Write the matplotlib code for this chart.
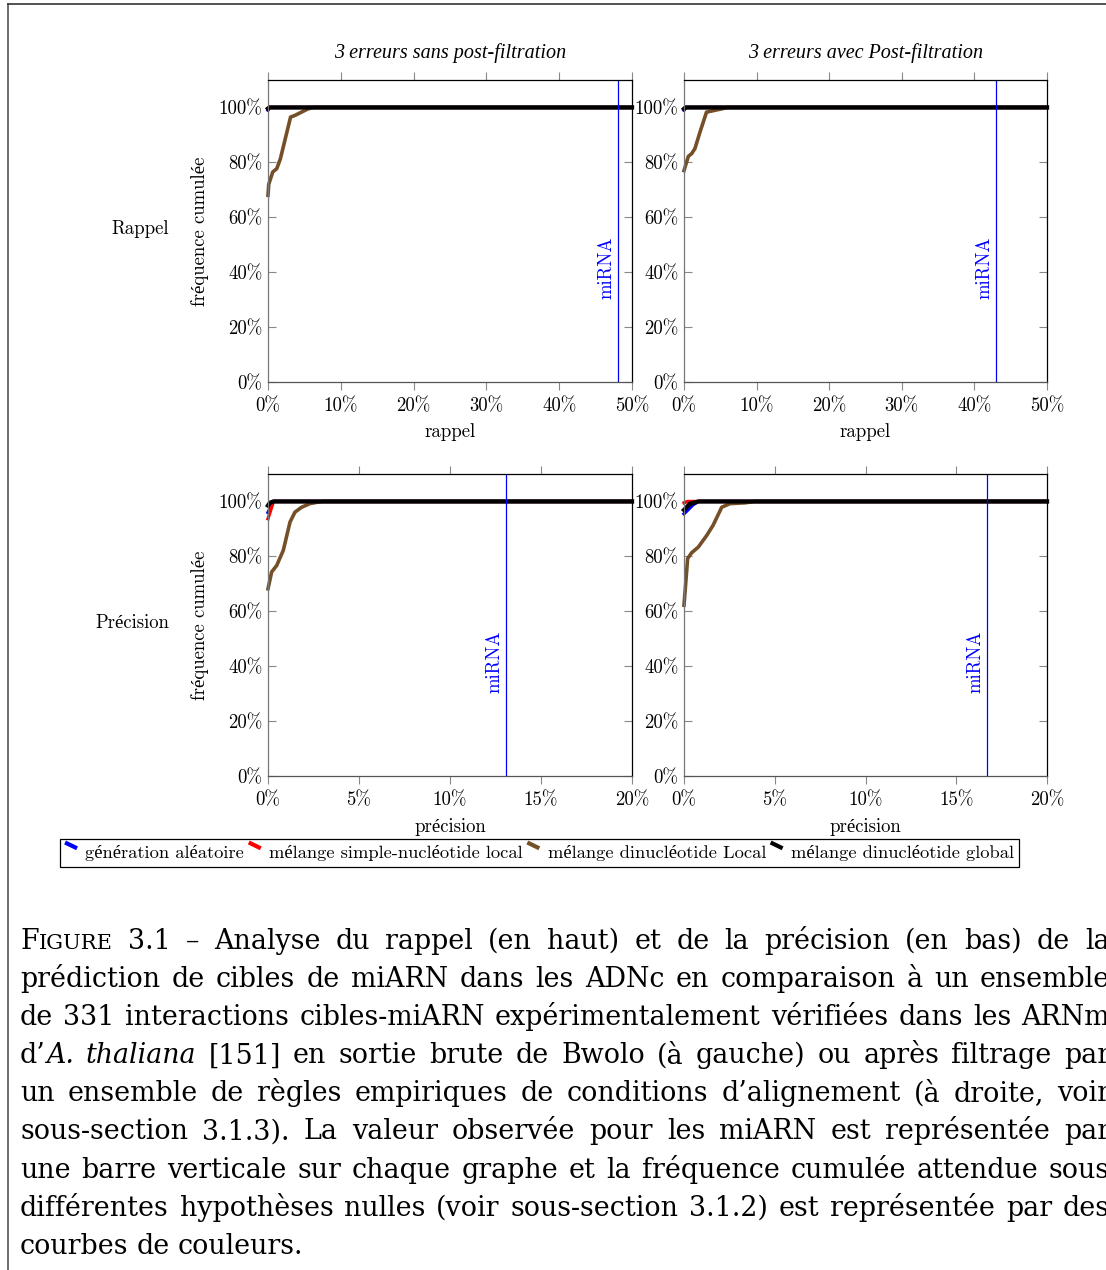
# -*- coding: utf-8 -*-
"""
Rappel / precision des predictions de cibles miARN (figure 3.1)
"""

import matplotlib
matplotlib.use('Agg')
import matplotlib.pyplot as plt
from matplotlib.lines import Line2D
from matplotlib.legend_handler import HandlerBase

W, H = 1106, 1270
FONT = ['cmr10', 'Liberation Serif']
CAPFONT = 'DejaVu Serif'
plt.rcParams['axes.formatter.use_mathtext'] = True

# ---------------- data (in %) ----------------
serie_names = ['génération aléatoire', 'mélange simple-nucléotide local',
               'mélange dinucléotide Local', 'mélange dinucléotide global']
serie_colors = ['#0000ff', '#ff0000', '#744f28', '#000000']

# Rappel, 3 erreurs sans post-filtration
rs_blue_x = [0, 0.2, 50]
rs_blue_y = [99.0, 100, 100]
rs_red_x = [0, 0.2, 50]
rs_red_y = [99.3, 100, 100]
rs_brown_x = [0, 0.1, 0.65, 1.2, 1.7, 3.1, 3.7, 4.6, 5.5, 6.3, 50]
rs_brown_y = [68, 72, 76.5, 77.7, 81.3, 96.5, 97.1, 98.3, 99.5, 100, 100]
rs_black_x = [0, 0.2, 50]
rs_black_y = [99.6, 100, 100]

# Rappel, 3 erreurs avec post-filtration
ra_blue_x = [0, 0.2, 50]
ra_blue_y = [99.0, 100, 100]
ra_red_x = [0, 0.2, 50]
ra_red_y = [99.3, 100, 100]
ra_brown_x = [0, 0.6, 1.06, 1.5, 2.2, 3.1, 3.8, 5.2, 6.0, 50]
ra_brown_y = [77, 82.2, 83.2, 85, 91, 98.3, 98.7, 99.5, 100, 100]
ra_black_x = [0, 0.2, 50]
ra_black_y = [99.5, 100, 100]

# Precision, sans post-filtration
ps_blue_x = [0, 0.3, 20]
ps_blue_y = [96, 100, 100]
ps_red_x = [0, 0.3, 20]
ps_red_y = [93.7, 100, 100]
ps_brown_x = [0, 0.2, 0.48, 0.84, 1.21, 1.48, 1.85, 2.3, 2.77, 3.1, 20]
ps_brown_y = [68.2, 74.3, 76.7, 82.2, 92.5, 96.1, 97.9, 99.2, 99.8, 100, 100]
ps_black_x = [0, 0.1, 0.3, 20]
ps_black_y = [98.5, 99.5, 100, 100]

# Precision, avec post-filtration
pa_blue_x = [0, 0.5, 0.8, 20]
pa_blue_y = [95.5, 98.8, 100, 100]
pa_red_x = [0, 0.2, 20]
pa_red_y = [99.5, 100, 100]
pa_brown_x = [0, 0.2, 0.42, 0.79, 1.25, 1.6, 2.08, 2.53, 3.36, 3.9, 20]
pa_brown_y = [62.2, 79.2, 81.3, 83.4, 87.6, 91.3, 97.9, 99.2, 99.5, 100, 100]
pa_black_x = [0, 0.33, 0.8, 20]
pa_black_y = [96.9, 99.2, 100, 100]

mirna_values = [48.1, 43.0, 13.1, 16.7]

titles = ['3 erreurs sans post-filtration', '3 erreurs avec Post-filtration']
row_labels = ['Rappel', 'Précision']
x_labels = ['rappel', 'précision']
y_ticks = [0, 20, 40, 60, 80, 100]
y_tick_labels = ['0%', '20%', '40%', '60%', '80%', '100%']
x_ticks_rappel = [0, 10, 20, 30, 40, 50]
x_tick_labels_rappel = ['0%', '10%', '20%', '30%', '40%', '50%']
x_ticks_prec = [0, 5, 10, 15, 20]
x_tick_labels_prec = ['0%', '5%', '10%', '15%', '20%']


def px_axes(l, t, r, b):
    return [l / W, 1 - b / H, (r - l) / W, (b - t) / H]


fig = plt.figure(figsize=(W / 100, H / 100), dpi=100)

panels = [
    (px_axes(268, 80, 632, 382), [(rs_blue_x, rs_blue_y), (rs_red_x, rs_red_y),
                                  (rs_brown_x, rs_brown_y), (rs_black_x, rs_black_y)],
     50, x_ticks_rappel, x_tick_labels_rappel),
    (px_axes(684, 80, 1047, 382), [(ra_blue_x, ra_blue_y), (ra_red_x, ra_red_y),
                                   (ra_brown_x, ra_brown_y), (ra_black_x, ra_black_y)],
     50, x_ticks_rappel, x_tick_labels_rappel),
    (px_axes(268, 474, 632, 776), [(ps_blue_x, ps_blue_y), (ps_red_x, ps_red_y),
                                   (ps_brown_x, ps_brown_y), (ps_black_x, ps_black_y)],
     20, x_ticks_prec, x_tick_labels_prec),
    (px_axes(684, 474, 1047, 776), [(pa_blue_x, pa_blue_y), (pa_red_x, pa_red_y),
                                    (pa_brown_x, pa_brown_y), (pa_black_x, pa_black_y)],
     20, x_ticks_prec, x_tick_labels_prec),
]

lw_list = [2.4, 2.4, 2.6, 3.1]
for i, (rect, curves, xmax, xt, xtl) in enumerate(panels):
    ax = fig.add_axes(rect)
    for (cx, cy), col, lw in zip(curves, serie_colors, lw_list):
        ax.plot(cx, cy, color=col, lw=lw, solid_joinstyle='round', clip_on=False)
    ax.axvline(mirna_values[i], color='blue', lw=0.9)
    ax.text(mirna_values[i] - xmax * 0.008, 41.5, 'miRNA', rotation=90, color='blue',
            ha='right', va='center', fontsize=13.5, family=FONT)
    ax.set_xlim(0, xmax)
    ax.set_ylim(0, 110)
    ax.set_yticks(y_ticks)
    ax.set_yticklabels(y_tick_labels, family=FONT, fontsize=13.5)
    ax.set_xticks(xt)
    ax.set_xticklabels(xtl, family=FONT, fontsize=13.5)
    ax.tick_params(axis='y', direction='in', left=True, right=True, length=6,
                   color='#888888', pad=4)
    ax.tick_params(axis='x', direction='out', top=True, bottom=True, length=6,
                   color='#888888', pad=5)
    for side in ['top', 'right']:
        ax.spines[side].set_color('black')
    ax.spines['left'].set_color('#777777')
    ax.spines['bottom'].set_color('#555555')
    for sp in ax.spines.values():
        sp.set_linewidth(0.9)
    ax.set_xlabel(x_labels[i // 2], family=FONT, fontsize=13.5, labelpad=6)
    if i < 2:
        ax.set_title(titles[i], family='Liberation Serif', style='italic',
                     fontsize=14.5, pad=16)
    if i % 2 == 0:
        ax.set_ylabel('fréquence cumulée', family=FONT, fontsize=13.5, labelpad=7)
        ax.text(-99 / 364, (382 - 229) / 302, row_labels[i // 2],
                transform=ax.transAxes, ha='right', va='center', family=FONT,
                fontsize=13.5)


# legend with slanted pgfplots-like markers
class SlantHandler(HandlerBase):
    def create_artists(self, legend, orig_handle, xdescent, ydescent, width,
                       height, fontsize, trans):
        ln = Line2D([-xdescent, -xdescent + width], [height * 1.2, height * 0.75],
                    color=orig_handle.get_color(), lw=3, transform=trans,
                    solid_capstyle='butt')
        return [ln]


handles = [Line2D([], [], color=c) for c in serie_colors]
leg = fig.legend(handles, serie_names, loc='center',
                 bbox_to_anchor=(539.5 / W, 1 - 853 / H), ncol=4,
                 handler_map={Line2D: SlantHandler()}, handlelength=0.65,
                 handletextpad=0.45, columnspacing=0.25, borderpad=0.3,
                 fancybox=False, edgecolor='black', framealpha=1,
                 prop={'family': FONT, 'size': 13.3})
leg.get_frame().set_linewidth(0.9)

# outer frame of the figure box
fig.add_artist(Line2D([8 / W, 8 / W], [0, 1 - 4 / H], color='#555555', lw=1.2,
                      transform=fig.transFigure))
fig.add_artist(Line2D([8 / W, 1], [1 - 4 / H, 1 - 4 / H], color='#333333', lw=1.2,
                      transform=fig.transFigure))

# caption, justified lines (runs: n normal, i italic, sc small caps)
caption_lines = [
    [[('F', 'n'), ('IGURE', 'sc')], [('3.1', 'n')], [('–', 'n')], [('Analyse', 'n')],
     [('du', 'n')], [('rappel', 'n')], [('(en', 'n')], [('haut)', 'n')], [('et', 'n')],
     [('de', 'n')], [('la', 'n')], [('précision', 'n')], [('(en', 'n')], [('bas)', 'n')],
     [('de', 'n')], [('la', 'n')]],
    'prédiction de cibles de miARN dans les ADNc en comparaison à un ensemble',
    'de 331 interactions cibles-miARN expérimentalement vérifiées dans les ARNm',
    [[('d’', 'n'), ('A.', 'i')], [('thaliana', 'i')], [('[151]', 'n')], [('en', 'n')],
     [('sortie', 'n')], [('brute', 'n')], [('de', 'n')], [('Bwolo', 'n')], [('(à', 'n')],
     [('gauche)', 'n')], [('ou', 'n')], [('après', 'n')], [('filtrage', 'n')],
     [('par', 'n')]],
    'un ensemble de règles empiriques de conditions d’alignement (à droite, voir',
    'sous-section 3.1.3). La valeur observée pour les miARN est représentée par',
    'une barre verticale sur chaque graphe et la fréquence cumulée attendue sous',
    'différentes hypothèses nulles (voir sous-section 3.1.2) est représentée par des',
    'courbes de couleurs.',
]

renderer = fig.canvas.get_renderer()
cap_size = 19.4
x0, right_edge = 20, 1110
baseline = 949
for k, line in enumerate(caption_lines):
    if isinstance(line, str):
        words = [[(w, 'n')] for w in line.split(' ')]
    else:
        words = line
    placed = []
    total = 0
    for word in words:
        wtexts = []
        wwidth = 0
        for s, st in word:
            t = fig.text(0, 0, s, family=CAPFONT,
                         fontsize=cap_size * (0.78 if st == 'sc' else 1.0),
                         style='italic' if st == 'i' else 'normal',
                         ha='left', va='baseline')
            w = t.get_window_extent(renderer).width
            wtexts.append((t, wwidth))
            wwidth += w
        placed.append((wtexts, wwidth))
        total += wwidth
    normal_gap = cap_size * 100 / 72 * 0.3
    if k == len(caption_lines) - 1:
        gap = normal_gap
    else:
        gap = max((right_edge - x0 - total) / (len(words) - 1), 0.6 * normal_gap)
    x = x0
    for wtexts, wwidth in placed:
        for t, off in wtexts:
            t.set_position(((x + off) / W, 1 - baseline / H))
        x += wwidth + gap
    baseline += 38.1

fig.savefig('out.png', dpi=100)
